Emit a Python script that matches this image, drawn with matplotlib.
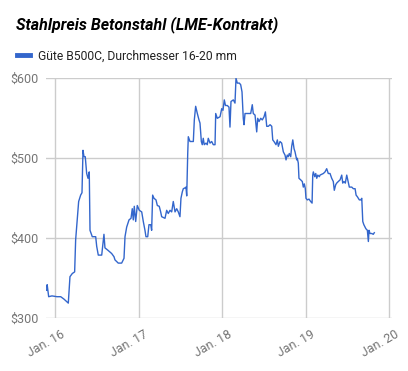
import matplotlib
matplotlib.use("Agg")
import matplotlib.pyplot as plt
import matplotlib.transforms as mtransforms

# Chart data (x = decimal year, y = USD per tonne)
years = [
    2015.897, 2015.903, 2015.921, 2015.960, 2016.020, 2016.065, 2016.104, 2016.156,
    2016.176, 2016.204, 2016.232, 2016.244, 2016.263, 2016.280, 2016.304, 2016.320,
    2016.332, 2016.344, 2016.359, 2016.376, 2016.392, 2016.407, 2016.416, 2016.443,
    2016.484, 2016.496, 2016.515, 2016.556, 2016.583, 2016.595, 2016.631, 2016.675,
    2016.703, 2016.715, 2016.754, 2016.795, 2016.823, 2016.835, 2016.855, 2016.883,
    2016.907, 2016.922, 2016.934, 2016.946, 2016.963, 2016.982, 2017.006, 2017.035,
    2017.054, 2017.074, 2017.086, 2017.107, 2017.122, 2017.143, 2017.154, 2017.166,
    2017.182, 2017.206, 2017.222, 2017.245, 2017.262, 2017.274, 2017.314, 2017.334,
    2017.353, 2017.374, 2017.394, 2017.413, 2017.434, 2017.454, 2017.473, 2017.493,
    2017.505, 2017.521, 2017.533, 2017.553, 2017.565, 2017.574, 2017.586, 2017.593,
    2017.613, 2017.653, 2017.665, 2017.681, 2017.701, 2017.721, 2017.733, 2017.749,
    2017.760, 2017.772, 2017.784, 2017.805, 2017.820, 2017.832, 2017.853, 2017.873,
    2017.892, 2017.913, 2017.921, 2017.940, 2017.973, 2017.993, 2018.008, 2018.024,
    2018.038, 2018.060, 2018.080, 2018.092, 2018.104, 2018.132, 2018.152, 2018.164,
    2018.180, 2018.204, 2018.220, 2018.236, 2018.251, 2018.260, 2018.272, 2018.311,
    2018.340, 2018.359, 2018.371, 2018.392, 2018.412, 2018.424, 2018.440, 2018.460,
    2018.479, 2018.500, 2018.516, 2018.532, 2018.551, 2018.572, 2018.592, 2018.604,
    2018.619, 2018.643, 2018.659, 2018.671, 2018.691, 2018.711, 2018.731, 2018.751,
    2018.763, 2018.778, 2018.790, 2018.802, 2018.819, 2018.831, 2018.844, 2018.859,
    2018.871, 2018.891, 2018.898, 2018.910, 2018.918, 2018.939, 2018.958, 2018.970,
    2018.982, 2018.994, 2019.002, 2019.018, 2019.038, 2019.058, 2019.075, 2019.083,
    2019.090, 2019.107, 2019.119, 2019.131, 2019.143, 2019.162, 2019.170, 2019.210,
    2019.230, 2019.250, 2019.269, 2019.290, 2019.310, 2019.329, 2019.341, 2019.358,
    2019.370, 2019.389, 2019.410, 2019.430, 2019.442, 2019.457, 2019.473, 2019.490,
    2019.502, 2019.521, 2019.550, 2019.569, 2019.590, 2019.602, 2019.617, 2019.641,
    2019.658, 2019.670, 2019.682, 2019.695, 2019.719, 2019.737, 2019.749, 2019.757,
    2019.769, 2019.789, 2019.808, 2019.820,
]
prices = [
    335, 342, 327, 328, 327, 327, 324, 319,
    352, 356, 358, 398, 423, 446, 454, 457,
    510, 502, 502, 481, 475, 483, 410, 402,
    402, 390, 379, 379, 405, 388, 385, 381,
    377, 373, 369, 369, 375, 402, 414, 423,
    425, 437, 423, 440, 421, 441, 435, 433,
    421, 410, 402, 402, 417, 417, 410, 454,
    450, 448, 441, 440, 433, 427, 425, 435,
    431, 435, 433, 446, 433, 437, 433, 427,
    450, 458, 462, 463, 464, 453, 506, 527,
    521, 521, 548, 565, 556, 548, 544, 521,
    517, 525, 517, 519, 517, 525, 519, 521,
    517, 517, 556, 550, 552, 562, 560, 573,
    566, 566, 564, 539, 571, 573, 569, 600,
    594, 594, 592, 583, 550, 542, 556, 556,
    556, 567, 556, 554, 533, 550, 546, 550,
    548, 552, 558, 540, 540, 542, 540, 523,
    521, 517, 523, 515, 521, 519, 508, 504,
    498, 504, 502, 506, 502, 515, 523, 512,
    508, 498, 500, 494, 475, 473, 471, 464,
    468, 462, 450, 448, 449, 446, 444, 479,
    483, 477, 481, 475, 479, 477, 479, 481,
    483, 487, 481, 481, 475, 471, 460, 467,
    469, 471, 473, 479, 469, 471, 469, 479,
    473, 464, 464, 462, 462, 454, 452, 448,
    448, 450, 421, 417, 412, 410, 396, 410,
    406, 406, 405, 407,
]
series_label = "Güte B500C, Durchmesser 16-20 mm"
title = "Stahlpreis Betonstahl (LME-Kontrakt)"
y_ticks = [300, 400, 500, 600]
x_ticks = [2016, 2017, 2018, 2019, 2020]
x_tick_labels = ["Jan. 16", "Jan. 17", "Jan. 18", "Jan. 19", "Jan. 20"]

plt.rcParams["font.family"] = ["Roboto", "DejaVu Sans"]

fig = plt.figure(figsize=(4.08, 3.71), dpi=100)
ax = fig.add_axes([46 / 408, 1 - 318.3 / 371, (392 - 46) / 408, (318.3 - 78.3) / 371])

line, = ax.plot(years, prices, color="#3366cc", lw=1.0, label=series_label)

ax.set_xlim(2015.889, 2020.032)
ax.set_ylim(300, 600)
ax.set_yticks(y_ticks)
ax.set_yticklabels([f"${v}" for v in y_ticks])
ax.set_xticks(x_ticks)
ax.set_xticklabels(x_tick_labels, rotation=30, ha="right", rotation_mode="anchor")

ax.grid(True, color="#cccccc", lw=1)
ax.set_axisbelow(True)
for s in ax.spines.values():
    s.set_visible(False)
ax.tick_params(length=0, labelsize=9, labelcolor="#757575", pad=4)
ax.tick_params(axis="y", pad=5)

# nudge the rotated x labels so they end just right of the grid lines
offset = mtransforms.ScaledTranslation(5 / 100, -4 / 100, fig.dpi_scale_trans)
for lbl in ax.get_xticklabels():
    lbl.set_transform(lbl.get_transform() + offset)

fig.text(16 / 408, 1 - 25 / 371, title, fontsize=11.5, fontweight="bold",
         fontstyle="italic", color="#000000", va="center", ha="left")

leg = fig.legend(handles=[line], loc="center left", bbox_to_anchor=(12 / 408, 1 - 56 / 371),
                 frameon=False, fontsize=8.7, handlelength=1.05, handletextpad=0.7,
                 labelcolor="#222222", borderaxespad=0)
leg.get_lines()[0].set_linewidth(3.5)

fig.savefig("out.png", dpi=100)
